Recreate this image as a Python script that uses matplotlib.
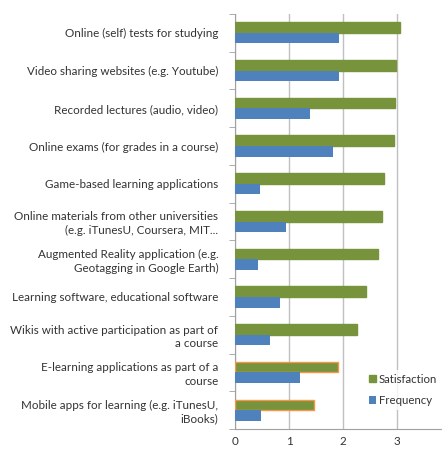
import numpy as np
import matplotlib.pyplot as plt
from matplotlib.ticker import FixedLocator

plt.rcParams['font.family'] = ['Lato', 'DejaVu Sans']

# categories, top to bottom
categories = [
    "Online (self) tests for studying",
    "Video sharing websites (e.g. Youtube)",
    "Recorded lectures (audio, video)",
    "Online exams (for grades in a course)",
    "Game-based learning applications",
    "Online materials from other universities\n(e.g. iTunesU, Coursera, MIT...",
    "Augmented Reality application (e.g.\nGeotagging in Google Earth)",
    "Learning software, educational software",
    "Wikis with active participation as part of\na course",
    "E-learning applications as part of a\ncourse",
    "Mobile apps for learning (e.g. iTunesU,\niBooks)",
]
satisfaction = [3.06, 2.98, 2.97, 2.95, 2.75, 2.72, 2.64, 2.43, 2.26, 1.90, 1.47]
frequency = [1.93, 1.93, 1.38, 1.81, 0.46, 0.94, 0.42, 0.84, 0.64, 1.20, 0.49]

green = '#77933C'
blue = '#4F81BD'
orange = '#F79646'

fig = plt.figure(figsize=(4.42, 4.5), dpi=100)
ax = fig.add_axes([235/442, 21/450, 1 - 235/442, 415/450])

y = np.arange(len(categories))
h = 0.28
edges = [green] * 9 + [orange, orange]
ax.barh(y - h/2, satisfaction, height=h, color=green, edgecolor=edges,
        linewidth=1.0, label='Satisfaction', zorder=3)
ax.barh(y + h/2, frequency, height=h, color=blue, label='Frequency', zorder=3)

ax.set_ylim(len(categories) - 0.5, -0.5)
ax.set_xlim(0, 207/54)
ax.set_xticks([0, 1, 2, 3])
ax.set_yticks(y)
ax.set_yticklabels(categories, fontsize=8.4, color='#333333', linespacing=1.25)
ax.yaxis.set_minor_locator(FixedLocator(np.arange(-0.5, len(categories), 1)))
ax.tick_params(axis='y', which='major', length=0, pad=12)
ax.tick_params(axis='y', which='minor', length=4, color='#A0A0A0')
ax.tick_params(axis='x', length=0, labelsize=8.4, colors='#333333', pad=5)

ax.grid(axis='x', color='#C0C0C0', linewidth=1, zorder=0)
for s in ['top', 'right']:
    ax.spines[s].set_visible(False)
for s in ['left', 'bottom']:
    ax.spines[s].set_color('#A0A0A0')

handles, labels = ax.get_legend_handles_labels()
leg = fig.legend(handles, labels, loc='center left',
                 bbox_to_anchor=(366/442, 1 - 390/450), frameon=True,
                 fontsize=8.2, handlelength=0.6, handleheight=0.6,
                 handletextpad=0.2, labelspacing=0.9, borderpad=0.3,
                 borderaxespad=0)
leg.get_frame().set_edgecolor('none')
leg.get_frame().set_facecolor('white')
for t in leg.get_texts():
    t.set_color('#333333')

fig.savefig('out.png', dpi=100)
